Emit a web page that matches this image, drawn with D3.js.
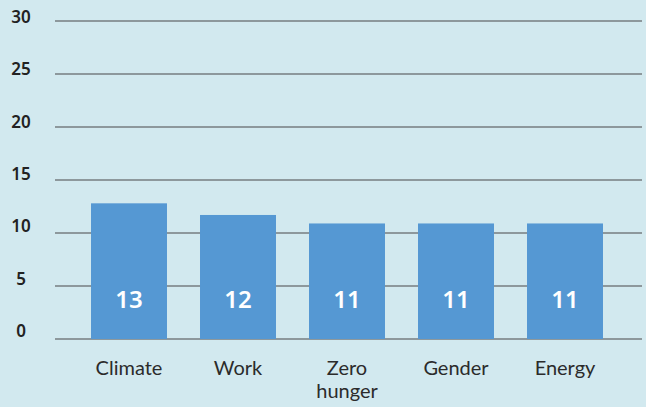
<!DOCTYPE html>
<html><head><meta charset="utf-8">
<script src="https://cdn.jsdelivr.net/npm/d3@7"></script>
<style>html,body{margin:0;padding:0;background:#d2e9ef;}svg{display:block;}</style>
</head><body>
<script>
const categories = [["Climate"], ["Work"], ["Zero", "hunger"], ["Gender"], ["Energy"]];
const values = [12.8, 11.7, 10.9, 10.9, 10.9];
const valueLabels = ["13", "12", "11", "11", "11"];
const yTicks = [0, 5, 10, 15, 20, 25, 30];

const W = 646, H = 407;
const svg = d3.select("body").append("svg").attr("width", W).attr("height", H);
svg.append("rect").attr("width", W).attr("height", H).attr("fill", "#d2e9ef");

const y = d3.scaleLinear().domain([0, 30]).range([339, 21]);
const yLabel = d3.scaleLinear().domain([0, 30]).range([337, 23]);
const keys = categories.map(c => c.join(" "));
const x = d3.scaleBand().domain(keys).range([74.5, 619.5]).paddingInner(0.303).paddingOuter(0.1515);

const font = "'Source Sans Pro','Noto Sans',sans-serif";
const catFont = "'Source Sans Pro',Lato,sans-serif";

// gridlines
svg.append("g").selectAll("line").data(yTicks).join("line")
  .attr("x1", 55).attr("x2", 642)
  .attr("y1", d => y(d)).attr("y2", d => y(d))
  .attr("stroke", "#767c80").attr("stroke-width", 1.5);

// y tick labels
svg.append("g").selectAll("text").data(yTicks).join("text")
  .attr("x", 21).attr("y", d => yLabel(d))
  .attr("text-anchor", "middle")
  .attr("font-family", font).attr("font-size", 17).attr("font-weight", 600)
  .attr("fill", "#222").text(d => d);

// bars
svg.append("g").selectAll("rect").data(values).join("rect")
  .attr("x", (d, i) => x(keys[i])).attr("width", x.bandwidth())
  .attr("y", d => y(d)).attr("height", d => y(0) - y(d))
  .attr("fill", "#5598d3");

// value labels
svg.append("g").selectAll("text").data(valueLabels).join("text")
  .attr("x", (d, i) => x(keys[i]) + x.bandwidth() / 2).attr("y", 308)
  .attr("text-anchor", "middle")
  .attr("font-family", font).attr("font-size", 24).attr("font-weight", 600)
  .attr("fill", "#fff").text(d => d);

// category labels
const cg = svg.append("g").selectAll("text").data(categories).join("text")
  .attr("x", (d, i) => x(keys[i]) + x.bandwidth() / 2).attr("y", 375)
  .attr("text-anchor", "middle")
  .attr("font-family", catFont).attr("font-size", 20)
  .attr("fill", "#2b2b2b");
cg.selectAll("tspan").data(d => d).join("tspan")
  .attr("x", function() { return d3.select(this.parentNode).attr("x"); })
  .attr("dy", (d, i) => i === 0 ? 0 : 23)
  .text(d => d);
</script>
</body></html>
